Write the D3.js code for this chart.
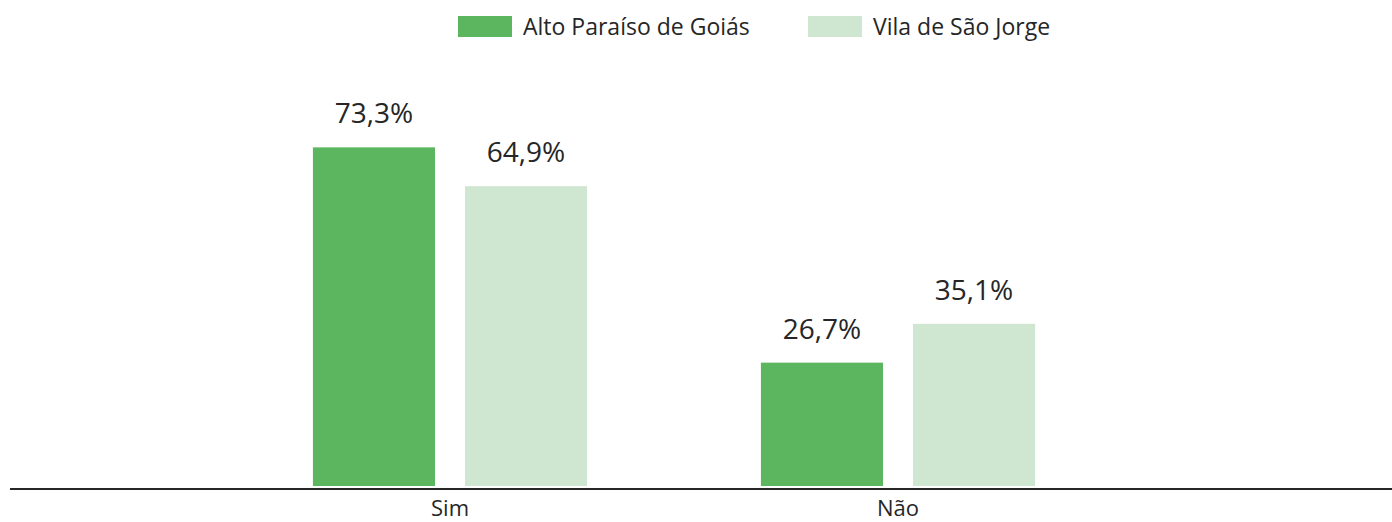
<!DOCTYPE html>
<html>
<head>
<meta charset="utf-8">
<script src="https://cdn.jsdelivr.net/npm/d3@7"></script>
<style>
  html, body { margin: 0; padding: 0; background: #ffffff; }
  svg { display: block; }
  text { font-family: "Open Sans", "Noto Sans", sans-serif; fill: #262626; }
</style>
</head>
<body>
<svg id="chart" width="1392" height="522"></svg>
<script>
const categories = ["Sim", "Não"];
const seriesNames = ["Alto Paraíso de Goiás", "Vila de São Jorge"];
const altoParaiso = [73.3, 26.7];
const vilaSaoJorge = [64.9, 35.1];
const seriesValues = [altoParaiso, vilaSaoJorge];
const colors = ["#5cb660", "#cfe7d0"];

const svg = d3.select("#chart");
const baseY = 486;

const x0 = d3.scaleBand().domain(categories).range([226, 1122]).paddingInner(0.388).paddingOuter(0.194);
const x1 = d3.scaleBand().domain(seriesNames).range([0, x0.bandwidth()]).paddingInner(0.197).paddingOuter(0);
const y = d3.scaleLinear().domain([0, 100]).range([baseY, baseY - 462]);

const fmt = v => d3.format(".1f")(v).replace(".", ",") + "%";

const groups = svg.append("g").selectAll("g")
  .data(categories)
  .join("g")
  .attr("transform", d => `translate(${x0(d)},0)`);

groups.selectAll("rect")
  .data((c, ci) => seriesNames.map((s, si) => ({ s, si, v: seriesValues[si][ci] })))
  .join("rect")
  .attr("x", d => x1(d.s))
  .attr("width", x1.bandwidth())
  .attr("y", d => y(d.v))
  .attr("height", d => y(0) - y(d.v))
  .attr("fill", d => colors[d.si]);

groups.selectAll("text.lbl")
  .data((c, ci) => seriesNames.map((s, si) => ({ s, si, v: seriesValues[si][ci] })))
  .join("text")
  .attr("class", "lbl")
  .attr("x", d => x1(d.s) + x1.bandwidth() / 2)
  .attr("y", d => y(d.v) - 24)
  .attr("text-anchor", "middle")
  .style("font-size", "28px")
  .text(d => fmt(d.v));

// x axis
const xAxis = d3.axisBottom(x0).tickSize(0).tickPadding(0);
const axisG = svg.append("g").attr("transform", `translate(0,${baseY + 3})`).call(xAxis);
axisG.select(".domain").remove();
axisG.selectAll("text")
  .attr("dy", null)
  .attr("y", 27)
  .style("font-size", "22px")
  .style("font-family", "'Open Sans', 'Noto Sans', sans-serif")
  .attr("fill", "#262626");
svg.append("line")
  .attr("x1", 10).attr("x2", 1392)
  .attr("y1", baseY + 3).attr("y2", baseY + 3)
  .attr("stroke", "#262626").attr("stroke-width", 2);

// legend
const legendX = [458, 808];
const legend = svg.append("g").selectAll("g")
  .data(seriesNames)
  .join("g")
  .attr("transform", (d, i) => `translate(${legendX[i]},16)`);
legend.append("rect").attr("width", 54).attr("height", 21).attr("fill", (d, i) => colors[i]);
legend.append("text").attr("x", 65).attr("y", 19).style("font-size", "23px").text(d => d);
</script>
</body>
</html>
